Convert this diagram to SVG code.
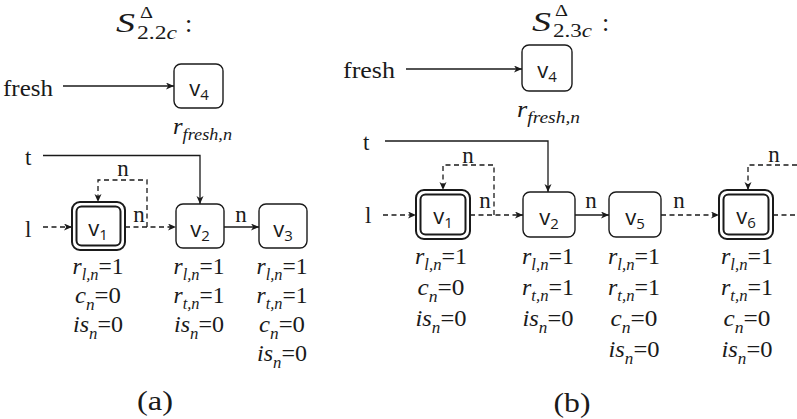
<svg xmlns="http://www.w3.org/2000/svg" width="797" height="419" viewBox="0 0 797 419">
<defs>
<marker id="ah" markerWidth="10" markerHeight="8" refX="8" refY="3.5" orient="auto" markerUnits="userSpaceOnUse"><path d="M0,0 L8,3.5 L0,7 L2.2,3.5 z" fill="#1a1a1a"/></marker>
</defs>
<style>
.box{fill:#fff;stroke:#1a1a1a;stroke-width:1.4}
.dbl{fill:none;stroke:#1a1a1a;stroke-width:2}
.e{fill:none;stroke:#1a1a1a;stroke-width:1.3}
.d{stroke-dasharray:5 3.5}
.t{font-family:"Liberation Serif","Times New Roman",serif;font-size:23px;fill:#1a1a1a}
.m{font-family:"Liberation Serif","Times New Roman",serif;font-size:23px;fill:#1a1a1a;text-anchor:middle}
.i{font-style:italic}
.s{font-size:16px}
.fs{font-size:17px}
.ts{font-size:28px}
.td{font-size:16px}
.tb{font-size:19px}
.tc{font-size:26px}
.cap{font-size:27px}
.v{font-family:"Open Sans","Liberation Sans",sans-serif;font-size:22px;fill:#1a1a1a;text-anchor:middle}
.vs{font-size:15px}
</style>

<g id="title-a">
<text class="t i ts" x="116" y="32" textLength="19" lengthAdjust="spacingAndGlyphs">S</text>
<text class="t td" x="140" y="18" textLength="13" lengthAdjust="spacingAndGlyphs">Δ</text>
<text class="t tb" x="137" y="39" textLength="40" lengthAdjust="spacingAndGlyphs">2.2<tspan class="i">c</tspan></text>
<text class="t tc" x="185" y="32">:</text>
</g>
<g id="title-b">
<text class="t i ts" x="532" y="31" textLength="19" lengthAdjust="spacingAndGlyphs">S</text>
<text class="t td" x="555" y="16" textLength="13" lengthAdjust="spacingAndGlyphs">Δ</text>
<text class="t tb" x="553" y="37" textLength="39" lengthAdjust="spacingAndGlyphs">2.3<tspan class="i">c</tspan></text>
<text class="t tc" x="602" y="31">:</text>
</g>

<g id="connectors">
<path class="e" d="M63,86 H174" marker-end="url(#ah)"/>
<path class="e" d="M43,155.5 H200 V204" marker-end="url(#ah)"/>
<path class="e d" d="M43,227 H72" marker-end="url(#ah)"/>
<path class="e d" d="M125,227 H176" marker-end="url(#ah)"/>
<path class="e d" d="M147,227 V180 H98 V202" marker-end="url(#ah)"/>
<path class="e" d="M224,227 H259" marker-end="url(#ah)"/>

<path class="e" d="M406,69 H522" marker-end="url(#ah)"/>
<path class="e" d="M385,141 H548 V192" marker-end="url(#ah)"/>
<path class="e d" d="M383,215 H416" marker-end="url(#ah)"/>
<path class="e d" d="M470,215 H523" marker-end="url(#ah)"/>
<path class="e d" d="M494,215 V165 H443 V190" marker-end="url(#ah)"/>
<path class="e" d="M575,215 H609" marker-end="url(#ah)"/>
<path class="e d" d="M661,215 H719" marker-end="url(#ah)"/>
<path class="e d" d="M797,165 H748 V190" marker-end="url(#ah)"/>
<path class="e d" d="M773,215 H797"/>

<text class="m" x="123" y="176">n</text>
<text class="m" x="139" y="222">n</text>
<text class="m" x="241" y="222">n</text>
<text class="m" x="468" y="163">n</text>
<text class="m" x="485" y="208">n</text>
<text class="m" x="591" y="208">n</text>
<text class="m" x="679" y="208">n</text>
<text class="m" x="774" y="162">n</text>
</g>

<g id="vars-a">
<text class="t" x="3" y="96" textLength="50" lengthAdjust="spacingAndGlyphs">fresh</text>
<text class="t" x="25" y="165">t</text>
<text class="t" x="25" y="237">l</text>
</g>
<g id="vars-b">
<text class="t" x="343" y="78" textLength="52" lengthAdjust="spacingAndGlyphs">fresh</text>
<text class="t" x="363" y="150">t</text>
<text class="t" x="365" y="223">l</text>
</g>

<g id="a-v4">
<rect class="box" x="174" y="64" width="49" height="44" rx="7"/>
<text class="v" x="199" y="96">v<tspan class="vs" dy="4">4</tspan></text>
<text class="t" x="173" y="134" textLength="59" lengthAdjust="spacingAndGlyphs"><tspan class="i">r</tspan><tspan class="i fs" dy="6">fresh,n</tspan></text>
</g>
<g id="a-v1">
<rect class="dbl" x="72" y="202" width="53" height="48" rx="8"/>
<rect class="dbl" x="76.5" y="206.5" width="44" height="39" rx="5"/>
<text class="v" x="98" y="236">v<tspan class="vs" dy="4">1</tspan></text>
<text class="m" x="98" y="274" textLength="51" lengthAdjust="spacingAndGlyphs"><tspan class="i">r</tspan><tspan class="i s" dy="6">l,n</tspan><tspan dy="-6">=1</tspan></text>
<text class="m" x="98" y="303" textLength="46" lengthAdjust="spacingAndGlyphs"><tspan class="i">c</tspan><tspan class="i s" dy="7">n</tspan><tspan dy="-7">=0</tspan></text>
<text class="m" x="98" y="332" textLength="50" lengthAdjust="spacingAndGlyphs"><tspan class="i">is</tspan><tspan class="i s" dy="7">n</tspan><tspan dy="-7">=0</tspan></text>
</g>
<g id="a-v2">
<rect class="box" x="176" y="204" width="48" height="44" rx="7"/>
<text class="v" x="200" y="237">v<tspan class="vs" dy="4">2</tspan></text>
<text class="m" x="199" y="274" textLength="51" lengthAdjust="spacingAndGlyphs"><tspan class="i">r</tspan><tspan class="i s" dy="6">l,n</tspan><tspan dy="-6">=1</tspan></text>
<text class="m" x="199" y="303" textLength="51" lengthAdjust="spacingAndGlyphs"><tspan class="i">r</tspan><tspan class="i s" dy="6">t,n</tspan><tspan dy="-6">=1</tspan></text>
<text class="m" x="199" y="332" textLength="50" lengthAdjust="spacingAndGlyphs"><tspan class="i">is</tspan><tspan class="i s" dy="7">n</tspan><tspan dy="-7">=0</tspan></text>
</g>
<g id="a-v3">
<rect class="box" x="259" y="204" width="48" height="44" rx="7"/>
<text class="v" x="283" y="237">v<tspan class="vs" dy="4">3</tspan></text>
<text class="m" x="282" y="274" textLength="51" lengthAdjust="spacingAndGlyphs"><tspan class="i">r</tspan><tspan class="i s" dy="6">l,n</tspan><tspan dy="-6">=1</tspan></text>
<text class="m" x="282" y="303" textLength="51" lengthAdjust="spacingAndGlyphs"><tspan class="i">r</tspan><tspan class="i s" dy="6">t,n</tspan><tspan dy="-6">=1</tspan></text>
<text class="m" x="282" y="332" textLength="46" lengthAdjust="spacingAndGlyphs"><tspan class="i">c</tspan><tspan class="i s" dy="7">n</tspan><tspan dy="-7">=0</tspan></text>
<text class="m" x="282" y="361" textLength="50" lengthAdjust="spacingAndGlyphs"><tspan class="i">is</tspan><tspan class="i s" dy="7">n</tspan><tspan dy="-7">=0</tspan></text>
</g>

<g id="b-v4">
<rect class="box" x="522" y="45" width="50" height="46" rx="7"/>
<text class="v" x="547" y="78">v<tspan class="vs" dy="4">4</tspan></text>
<text class="t" x="517" y="117" textLength="63" lengthAdjust="spacingAndGlyphs"><tspan class="i">r</tspan><tspan class="i fs" dy="6">fresh,n</tspan></text>
</g>
<g id="b-v1">
<rect class="dbl" x="416" y="190" width="54" height="49" rx="8"/>
<rect class="dbl" x="420.5" y="194.5" width="45" height="40" rx="5"/>
<text class="v" x="443" y="224">v<tspan class="vs" dy="4">1</tspan></text>
<text class="m" x="441" y="264" textLength="52" lengthAdjust="spacingAndGlyphs"><tspan class="i">r</tspan><tspan class="i s" dy="6">l,n</tspan><tspan dy="-6">=1</tspan></text>
<text class="m" x="441" y="295" textLength="47" lengthAdjust="spacingAndGlyphs"><tspan class="i">c</tspan><tspan class="i s" dy="7">n</tspan><tspan dy="-7">=0</tspan></text>
<text class="m" x="441" y="326" textLength="51" lengthAdjust="spacingAndGlyphs"><tspan class="i">is</tspan><tspan class="i s" dy="7">n</tspan><tspan dy="-7">=0</tspan></text>
</g>
<g id="b-v2">
<rect class="box" x="523" y="192" width="52" height="45" rx="7"/>
<text class="v" x="549" y="225">v<tspan class="vs" dy="4">2</tspan></text>
<text class="m" x="548" y="264" textLength="52" lengthAdjust="spacingAndGlyphs"><tspan class="i">r</tspan><tspan class="i s" dy="6">l,n</tspan><tspan dy="-6">=1</tspan></text>
<text class="m" x="548" y="295" textLength="52" lengthAdjust="spacingAndGlyphs"><tspan class="i">r</tspan><tspan class="i s" dy="6">t,n</tspan><tspan dy="-6">=1</tspan></text>
<text class="m" x="548" y="326" textLength="51" lengthAdjust="spacingAndGlyphs"><tspan class="i">is</tspan><tspan class="i s" dy="7">n</tspan><tspan dy="-7">=0</tspan></text>
</g>
<g id="b-v5">
<rect class="box" x="609" y="192" width="52" height="45" rx="7"/>
<text class="v" x="635" y="225">v<tspan class="vs" dy="4">5</tspan></text>
<text class="m" x="634" y="264" textLength="52" lengthAdjust="spacingAndGlyphs"><tspan class="i">r</tspan><tspan class="i s" dy="6">l,n</tspan><tspan dy="-6">=1</tspan></text>
<text class="m" x="634" y="295" textLength="52" lengthAdjust="spacingAndGlyphs"><tspan class="i">r</tspan><tspan class="i s" dy="6">t,n</tspan><tspan dy="-6">=1</tspan></text>
<text class="m" x="634" y="326" textLength="47" lengthAdjust="spacingAndGlyphs"><tspan class="i">c</tspan><tspan class="i s" dy="7">n</tspan><tspan dy="-7">=0</tspan></text>
<text class="m" x="634" y="357" textLength="51" lengthAdjust="spacingAndGlyphs"><tspan class="i">is</tspan><tspan class="i s" dy="7">n</tspan><tspan dy="-7">=0</tspan></text>
</g>
<g id="b-v6">
<rect class="dbl" x="719" y="190" width="54" height="49" rx="8"/>
<rect class="dbl" x="723.5" y="194.5" width="45" height="40" rx="5"/>
<text class="v" x="746" y="224">v<tspan class="vs" dy="4">6</tspan></text>
<text class="m" x="747" y="264" textLength="52" lengthAdjust="spacingAndGlyphs"><tspan class="i">r</tspan><tspan class="i s" dy="6">l,n</tspan><tspan dy="-6">=1</tspan></text>
<text class="m" x="747" y="295" textLength="52" lengthAdjust="spacingAndGlyphs"><tspan class="i">r</tspan><tspan class="i s" dy="6">t,n</tspan><tspan dy="-6">=1</tspan></text>
<text class="m" x="747" y="326" textLength="47" lengthAdjust="spacingAndGlyphs"><tspan class="i">c</tspan><tspan class="i s" dy="7">n</tspan><tspan dy="-7">=0</tspan></text>
<text class="m" x="747" y="357" textLength="51" lengthAdjust="spacingAndGlyphs"><tspan class="i">is</tspan><tspan class="i s" dy="7">n</tspan><tspan dy="-7">=0</tspan></text>
</g>

<g id="captions">
<text class="m cap" x="155" y="410" textLength="36" lengthAdjust="spacingAndGlyphs">(a)</text>
<text class="m cap" x="572" y="412" textLength="37" lengthAdjust="spacingAndGlyphs">(b)</text>
</g>
</svg>
